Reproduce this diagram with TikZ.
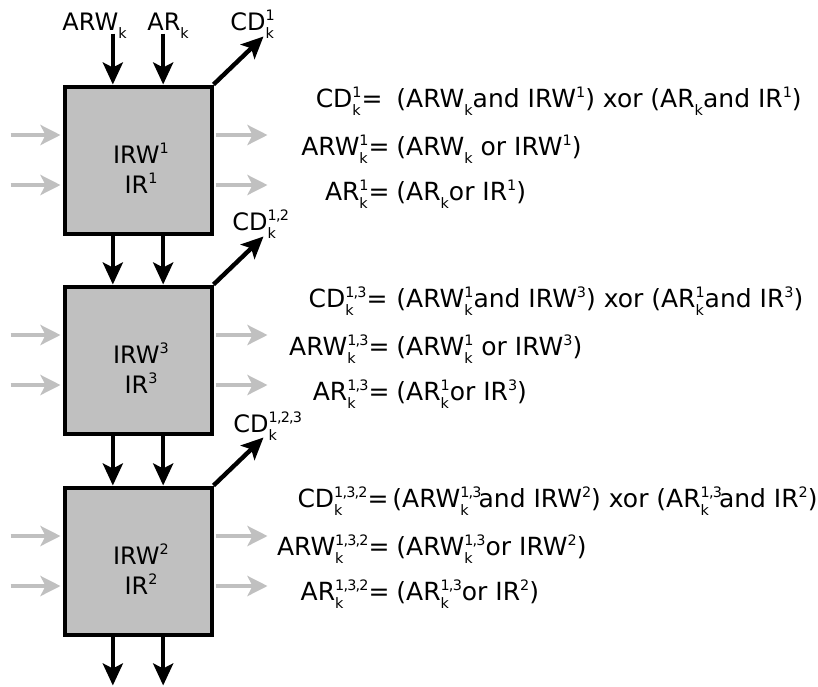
\documentclass[tikz,border=0pt]{standalone}
\usepackage{fontspec}
\setmainfont{DejaVu Sans}
\usetikzlibrary{arrows.meta,calc,positioning}
\definecolor{lightgrey}{HTML}{C0C0C0}

% stacked super/subscript
\newcommand\ud[2]{{\fontsize{7.2}{7.2}\selectfont
  \setbox0=\hbox{\raisebox{4.9pt}{#1}}%
  \setbox2=\hbox{\raisebox{-4pt}{#2}}%
  \ifdim\wd0>\wd2 \rlap{\box2}\box0 \else\rlap{\box0}\box2 \fi}}
\newcommand\cm{\kern-0.4pt,\kern-0.4pt}

\begin{document}
\begin{tikzpicture}[
      x=0.5pt, y=-0.5pt,
      blk/.style={draw, line width=2pt, fill=lightgrey, minimum width=73.5pt, minimum height=73.5pt, inner sep=0pt},
      blktxt/.style={align=center, inner sep=0pt, font=\fontsize{12}{15}\selectfont},
      lbl/.style={anchor=base west, inner sep=0pt, font=\fontsize{12}{14}\selectfont},
      lhs/.style={anchor=base east, inner sep=0pt, font=\fontsize{12.5}{14}\selectfont},
      rhs/.style={anchor=base west, inner sep=0pt, font=\fontsize{12.5}{14}\selectfont},
      arr/.style={-{Stealth[length=11pt, width=10pt, inset=2.5pt]}, line width=2.2pt},
      side/.style={-{Stealth[length=10pt, width=10pt, inset=2.5pt]}, line width=2pt, lightgrey}
  ]
    \useasboundingbox (0,0) rectangle (818,686);

    % blocks
    \node[blk] (box1) at (138,160) {};
    \node[blk] (box3) at (138,360) {};
    \node[blk] (box2) at (138,561) {};
    \node[blktxt, anchor=base] (txt1) at ($(box1.center)+(3,33)$) {IRW\ud{1}{}\\IR\ud{1}{}};
    \node[blktxt, anchor=base] (txt3) at ($(box3.center)+(3,33)$) {IRW\ud{3}{}\\IR\ud{3}{}};
    \node[blktxt, anchor=base] (txt2) at ($(box2.center)+(3,33)$) {IRW\ud{2}{}\\IR\ud{2}{}};

    % grey side arrows
    \foreach \b in {box1,box3,box2}{
      \foreach \dy in {-25,25}{
        \draw[side] ($(\b.west)+(-52,\dy)$) -- ($(\b.west)+(-2,\dy)$);
        \draw[side] ($(\b.east)+(2,\dy)$) -- ($(\b.east)+(54,\dy)$);
      }
    }

    % inputs
    \node[lbl] (arwk) at (62,30) {ARW\ud{}{k}};
    \node[lbl] (ark) at (147,30) {AR\ud{}{k}};
    \coordinate (in1) at ($(box1.north west)!1/3!(box1.north east)+(0,-51)$);
    \coordinate (in2) at ($(box1.north west)!2/3!(box1.north east)+(0,-51)$);
    \draw[arr] (in1) -- ($(box1.north west)!1/3!(box1.north east)$);
    \draw[arr] (in2) -- ($(box1.north west)!2/3!(box1.north east)$);

    % chain
    \draw[arr] ($(box1.south west)!1/3!(box1.south east)$) -- ($(box3.north west)!1/3!(box3.north east)$);
    \draw[arr] ($(box1.south west)!2/3!(box1.south east)$) -- ($(box3.north west)!2/3!(box3.north east)$);
    \draw[arr] ($(box3.south west)!1/3!(box3.south east)$) -- ($(box2.north west)!1/3!(box2.north east)$);
    \draw[arr] ($(box3.south west)!2/3!(box3.south east)$) -- ($(box2.north west)!2/3!(box2.north east)$);

    % outputs
    \coordinate (out1) at ($(box2.south west)!1/3!(box2.south east)+(0,49)$);
    \coordinate (out2) at ($(box2.south west)!2/3!(box2.south east)+(0,49)$);
    \draw[arr] ($(box2.south west)!1/3!(box2.south east)$) -- (out1);
    \draw[arr] ($(box2.south west)!2/3!(box2.south east)$) -- (out2);

    % carry outputs
    \coordinate (cdtip1) at ($(box1.north east)+(50,-48)$);
    \coordinate (cdtip3) at ($(box3.north east)+(50,-48)$);
    \coordinate (cdtip2) at ($(box2.north east)+(50,-48)$);
    \draw[arr] (box1.north east) -- (cdtip1);
    \draw[arr] (box3.north east) -- (cdtip3);
    \draw[arr] (box2.north east) -- (cdtip2);
    \node[lbl] (cd1) at (230,30) {CD\ud{1}{k}};
    \node[lbl] (cd12) at (232,230) {CD\ud{1\cm2}{k}};
    \node[lbl] (cd123) at (233,432) {CD\ud{1\cm2\cm3}{k}};

    % equations, block 1
    \node[lhs] (la1) at (383,107) {CD\ud{1}{k}=};
    \node[rhs] (ra1) at (396,107) {(ARW\ud{}{k}and IRW\ud{1}{}) xor (AR\ud{}{k}and IR\ud{1}{})};
    \node[lhs] (la2) at (390,155) {ARW\ud{1}{k}=};
    \node[rhs] (ra2) at (396,155) {(ARW\ud{}{k} or IRW\ud{1}{})};
    \node[lhs] (la3) at (390,200) {AR\ud{1}{k}=};
    \node[rhs] (ra3) at (396,200) {(AR\ud{}{k}or IR\ud{1}{})};

    % equations, block 2
    \node[lhs] (lb1) at (388,307) {CD\ud{1\cm3}{k}=};
    \node[rhs] (rb1) at (396,307) {(ARW\ud{1}{k}and IRW\ud{3}{}) xor (AR\ud{1}{k}and IR\ud{3}{})};
    \node[lhs] (lb2) at (390,355) {ARW\ud{1\cm3}{k}=};
    \node[rhs] (rb2) at (396,355) {(ARW\ud{1}{k} or IRW\ud{3}{})};
    \node[lhs] (lb3) at (390,400) {AR\ud{1\cm3}{k}=};
    \node[rhs] (rb3) at (396,400) {(AR\ud{1}{k}or IR\ud{3}{})};

    % equations, block 3
    \node[lhs] (lc1) at (389,507) {CD\ud{1\cm3\cm2}{k}=};
    \node[rhs] (rc1) at (392,507) {(ARW\ud{1\cm3}{k}\kern-1.5pt and IRW\ud{2}{}) xor (AR\ud{1\cm3}{k}\kern-1.5pt and IR\ud{2}{})};
    \node[lhs] (lc2) at (390,555) {ARW\ud{1\cm3\cm2}{k}=};
    \node[rhs] (rc2) at (396,555) {(ARW\ud{1\cm3}{k}or IRW\ud{2}{})};
    \node[lhs] (lc3) at (390,600) {AR\ud{1\cm3\cm2}{k}=};
    \node[rhs] (rc3) at (396,600) {(AR\ud{1\cm3}{k}or IR\ud{2}{})};
  \end{tikzpicture}
\end{document}
